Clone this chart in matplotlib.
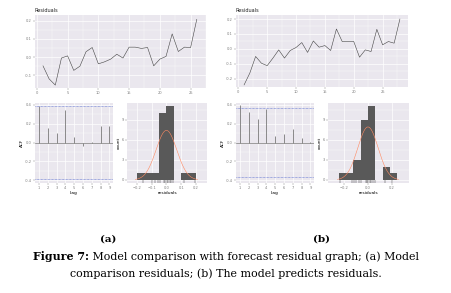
import matplotlib
matplotlib.use('Agg')
import matplotlib.pyplot as plt
import numpy as np

# residual series
res_a = [-0.048, -0.12, -0.154, -0.005, 0.007, -0.073, -0.05, 0.03, 0.053, -0.037,
         -0.026, -0.011, 0.016, -0.005, 0.055, 0.055, 0.048, 0.053, -0.048, -0.011,
         0.004, 0.128, 0.031, 0.055, 0.053, 0.208]
res_b = [-0.242, -0.162, -0.051, -0.096, -0.113, -0.062, -0.007, -0.062, -0.011, 0.009,
         0.042, -0.024, 0.053, 0.011, 0.022, -0.011, 0.133, 0.049, 0.049, 0.049,
         -0.056, -0.007, -0.018, 0.131, 0.027, 0.049, 0.038, 0.2]

lags = [1, 2, 3, 4, 5, 6, 7, 8, 9]
acf_a = [0.39, 0.158, 0.098, 0.35, 0.06, -0.035, 0.007, 0.18, 0.18]
acf_b = [0.40, 0.325, 0.255, 0.36, 0.07, 0.09, 0.14, 0.045, 0.01]

edges_a = [-0.2, -0.15, -0.1, -0.05, 0.0, 0.05, 0.1, 0.15, 0.2]
counts_a = [1, 1, 1, 10, 11, 0, 1, 1]
edges_b = [-0.246, -0.185, -0.123, -0.062, 0.0, 0.062, 0.123, 0.185, 0.246]
counts_b = [1, 1, 3, 9, 11, 0, 2, 1]

rug_a = [-0.155, -0.10, -0.074, -0.057, -0.04, -0.016, -0.007, 0.002, 0.011, 0.022,
         0.034, 0.045, 0.117, 0.19]
rug_b = [-0.235, -0.135, -0.12, -0.1, -0.077, -0.056, -0.02, -0.008, 0.003, 0.014,
         0.029, 0.042, 0.057, 0.147, 0.207]

# normal curve parameters (mean, sd)
norm_a = (0.0, 0.070)
norm_b = (0.0, 0.086)

W, H = 452, 293
BG = '#EAE7EE'
TICK = '#7f7f7f'
fs = 2.6
SERIF = 'DejaVu Serif'
cap_fs = 7.9

fig = plt.figure(figsize=(W / 100, H / 100), dpi=100)


def box(x0, y0, x1, y1):
    return [x0 / W, 1 - y1 / H, (x1 - x0) / W, (y1 - y0) / H]


def style(ax):
    ax.set_facecolor(BG)
    for s in ax.spines.values():
        s.set_visible(False)
    ax.grid(True, which='major', color='white', lw=0.5)
    ax.grid(True, which='minor', color='white', lw=0.25)
    ax.set_axisbelow(True)
    ax.tick_params(which='major', length=1.2, width=0.3, color=TICK, labelsize=fs,
                   labelcolor=TICK, pad=1)
    ax.tick_params(which='minor', length=0)


def resid_panel(ax, r, ylim, yticks):
    style(ax)
    x = np.arange(1, len(r) + 1)
    ax.plot(x, r, color='#444444', lw=0.4)
    n = len(r)
    ax.set_xlim(1 - 0.05 * (n - 1) - 0.05, n + 0.05 * (n - 1) + 0.05)
    ax.set_ylim(*ylim)
    ax.set_xticks([0, 5, 10, 15, 20, 25])
    ax.set_xticks([2.5, 7.5, 12.5, 17.5, 22.5, 27.5], minor=True)
    ax.set_yticks(yticks)
    ax.set_yticks(np.array(yticks[:-1]) + 0.05, minor=True)
    ax.set_yticklabels(['%.1f' % v for v in yticks])


def acf_panel(ax, a, n):
    style(ax)
    ax.vlines(lags, 0, a, color='#777777', lw=0.6)
    ax.axhline(0, color='#777777', lw=0.5)
    ci = 1.96 / np.sqrt(n)
    ax.axhline(ci, color='#5a6fd0', lw=0.5, ls=(0, (1, 1)))
    ax.axhline(-ci, color='#5a6fd0', lw=0.5, ls=(0, (1, 1)))
    ax.set_xlim(0.55, 9.4)
    ax.set_ylim(-0.43, 0.42)
    ax.set_xticks(lags)
    ax.set_yticks([-0.4, -0.2, 0.0, 0.2, 0.4])
    ax.set_yticks([-0.3, -0.1, 0.1, 0.3], minor=True)
    ax.set_yticklabels(['-0.4', '-0.2', '0.0', '0.2', '0.4'])
    ax.set_xlabel('Lag', fontsize=3.2, labelpad=0.5)
    ax.set_ylabel('ACF', fontsize=3.2, labelpad=0.5)


def hist_panel(ax, edges, counts, rug, norm, xlim, xticks):
    style(ax)
    e = np.array(edges)
    ax.bar(e[:-1], counts, width=np.diff(e), align='edge', color='#595959', lw=0)
    m, sd = norm
    bw = e[1] - e[0]
    xg = np.linspace(m - 3 * sd, m + 3 * sd, 200)
    yg = sum(counts) * bw * np.exp(-0.5 * ((xg - m) / sd) ** 2) / (sd * np.sqrt(2 * np.pi))
    ax.plot(xg, yg, color='#ff8a62', lw=0.4)
    ax.vlines(rug, -0.45, 0.0, color='#222222', lw=0.3)
    ax.set_xlim(*xlim)
    ax.set_ylim(-0.45, 11.5)
    ax.set_xticks(xticks)
    ax.set_yticks([0, 3, 6, 9])
    ax.set_yticks([1.5, 4.5, 7.5, 10.5], minor=True)
    ax.set_xlabel('residuals', fontsize=3.2, labelpad=0.5)
    ax.set_ylabel('count', fontsize=3.2, labelpad=0.5)


ax1 = fig.add_axes(box(35, 15, 206, 88))
resid_panel(ax1, res_a, (-0.17, 0.232), [-0.1, 0.0, 0.1, 0.2])
ax2 = fig.add_axes(box(236, 15, 408, 87))
resid_panel(ax2, res_b, (-0.256, 0.227), [-0.2, -0.1, 0.0, 0.1, 0.2])
fig.text(35 / W, 1 - 12 / H, 'Residuals', fontsize=3.6, color='#222222')
fig.text(236 / W, 1 - 12 / H, 'Residuals', fontsize=3.6, color='#222222')

ax3 = fig.add_axes(box(35, 103, 113, 183))
acf_panel(ax3, acf_a, len(res_a))
ax4 = fig.add_axes(box(127, 103, 207, 183))
hist_panel(ax4, edges_a, counts_a, rug_a, norm_a, (-0.266, 0.274),
           [-0.2, -0.1, 0.0, 0.1, 0.2])

ax5 = fig.add_axes(box(236, 103, 314, 183))
acf_panel(ax5, acf_b, len(res_b))
ax6 = fig.add_axes(box(328, 103, 409, 183))
hist_panel(ax6, edges_b, counts_b, rug_b, norm_b, (-0.338, 0.347),
           [-0.2, 0.0, 0.2])

fig.text(108 / W, 1 - 239 / H, '(a)', fontsize=7.5, fontweight='bold',
         family=SERIF, ha='center', va='center')
fig.text(322 / W, 1 - 239 / H, '(b)', fontsize=7.5, fontweight='bold',
         family=SERIF, ha='center', va='center')

# caption: bold lead-in followed by regular text, centred as one line
t1 = fig.text(0, 1 - 257 / H, 'Figure 7:', fontsize=cap_fs, fontweight='bold',
              family=SERIF, va='center')
t2 = fig.text(0, 1 - 257 / H,
              ' Model comparison with forecast residual graph; (a) Model',
              fontsize=cap_fs, family=SERIF, va='center')
r = fig.canvas.get_renderer()
w1 = t1.get_window_extent(r).width
w2 = t2.get_window_extent(r).width
x0 = (W - w1 - w2) / 2
t1.set_x(x0 / W)
t2.set_x((x0 + w1) / W)
fig.text(0.5, 1 - 274 / H,
         'comparison residuals; (b) The model predicts residuals.',
         fontsize=cap_fs, family=SERIF, ha='center', va='center')

fig.savefig('out.png', dpi=100)
